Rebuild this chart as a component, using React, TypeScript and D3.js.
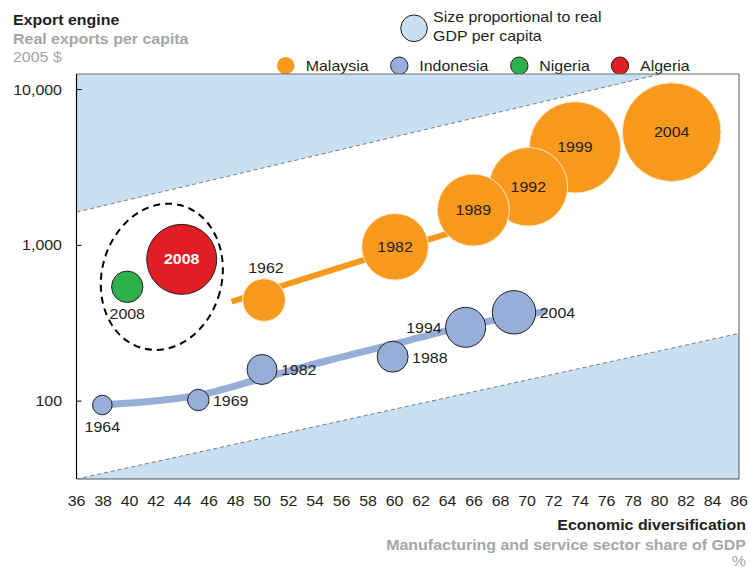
import React from 'react';
import * as d3 from 'd3';

// ---- data ----
const xTicks = [36, 38, 40, 42, 44, 46, 48, 50, 52, 54, 56, 58, 60, 62, 64, 66, 68, 70, 72, 74, 76, 78, 80, 82, 84, 86];
const yTicks = [100, 1000, 10000];

const malaysiaYears = [1962, 1982, 1989, 1992, 1999, 2004];
const malaysiaDiv = [50.15, 60.04, 65.95, 70.1, 73.62, 80.92];
const malaysiaExports = [446, 979, 1685, 2377, 4256, 5333];
const malaysiaGdp = [2180, 5320, 6220, 7410, 10020, 11670];
const malaysiaLabelPos = ['above', 'inside', 'inside', 'inside', 'inside', 'inside'];

const indonesiaYears = [1964, 1969, 1982, 1988, 1994, 2004];
const indonesiaDiv = [37.95, 45.19, 50.0, 59.86, 65.37, 69.02];
const indonesiaExports = [94.4, 101.6, 159.6, 192.8, 297.7, 371.5];
const indonesiaGdp = [460, 550, 1080, 1150, 1920, 2260];
const indonesiaLabelPos = ['below', 'right', 'right', 'right', 'left', 'right'];

const nigeriaYears = [2008];
const nigeriaDiv = [39.83];
const nigeriaExports = [542];
const nigeriaGdp = [1183];

const algeriaYears = [2008];
const algeriaDiv = [43.94];
const algeriaExports = [813];
const algeriaGdp = [5880];

const malaysiaTrendX = [47.7, 66.1];
const malaysiaTrendY = [434.5, 1355];
const indonesiaTrendX = [37.92, 42.0, 45.32, 50.0, 55.13, 61.17, 65.7, 71.5];
const indonesiaTrendY = [94.4, 100.5, 109.4, 140.0, 183.6, 246.6, 307.7, 378.4];

const upperBandX = [36, 86];
const upperBandY = [1636, 16560];
const lowerBandX = [36, 86];
const lowerBandY = [31.6, 272];

const clusterCenter = { x: 42.44, y: 628 };

const countries = ['Malaysia', 'Indonesia', 'Nigeria', 'Algeria'];

// ---- styles ----
const COLORS: Record<string, string> = {
  Malaysia: '#f7991c',
  Indonesia: '#97aed9',
  Nigeria: '#2eb04a',
  Algeria: '#e01e26',
};
const SHADE = '#c9e0f4';
const FONT = '"Liberation Sans", Arial, Helvetica, sans-serif';
const GREY = '#a6a6a6';
const TEXT = '#231f20';
const SX = 1.14;

const W = 750;
const H = 569;
const PL = 76.5, PR = 739, PT = 74, PB = 479;

type TP = {
  x: number; y: number; children: React.ReactNode; size?: number; bold?: boolean;
  fill?: string; anchor?: 'start' | 'middle' | 'end';
};
function T({ x, y, children, size = 14, bold = false, fill = TEXT, anchor = 'start' }: TP) {
  return (
    <g transform={`translate(${x},${y}) scale(${SX},1)`}>
      <text x={0} y={0} fontSize={size} fontWeight={bold ? 'bold' : 'normal'} fill={fill} textAnchor={anchor}>{children}</text>
    </g>
  );
}

export default function App() {
  const x = d3.scaleLinear().domain([36, 86]).range([PL, PR]);
  const y = d3.scaleLog().domain([Math.pow(10, 1.5), Math.pow(10, 4.1)]).range([PB, PT]);
  const r = d3.scaleSqrt().domain([0, 12000]).range([0, 50]);

  const lineGen = d3.line<[number, number]>().x(d => x(d[0])).y(d => y(d[1]));
  const curveGen = d3.line<[number, number]>().x(d => x(d[0])).y(d => y(d[1])).curve(d3.curveCatmullRom);

  const upperPts: [number, number][] = upperBandX.map((v, i) => [x(v), y(upperBandY[i])]);
  const lowerPts: [number, number][] = lowerBandX.map((v, i) => [x(v), y(lowerBandY[i])]);
  const upperPoly = `M${upperPts[0][0]},${upperPts[0][1]}L${upperPts[1][0]},${upperPts[1][1]}L${PR},${PT - 200}L${PL},${PT - 200}Z`;
  const lowerPoly = `M${lowerPts[0][0]},${lowerPts[0][1]}L${lowerPts[1][0]},${lowerPts[1][1]}L${PR},${PB + 50}L${PL},${PB + 50}Z`;
  const upperLine = lineGen(upperBandX.map((v, i) => [v, upperBandY[i]]) as [number, number][]) || '';
  const lowerLine = lineGen(lowerBandX.map((v, i) => [v, lowerBandY[i]]) as [number, number][]) || '';

  const malaysia = malaysiaYears.map((yr, i) => ({ yr, cx: x(malaysiaDiv[i]), cy: y(malaysiaExports[i]), rr: r(malaysiaGdp[i]), pos: malaysiaLabelPos[i] }));
  const indonesia = indonesiaYears.map((yr, i) => ({ yr, cx: x(indonesiaDiv[i]), cy: y(indonesiaExports[i]), rr: r(indonesiaGdp[i]), pos: indonesiaLabelPos[i] }));
  const nigeria = nigeriaYears.map((yr, i) => ({ yr, cx: x(nigeriaDiv[i]), cy: y(nigeriaExports[i]), rr: r(nigeriaGdp[i]) }));
  const algeria = algeriaYears.map((yr, i) => ({ yr, cx: x(algeriaDiv[i]), cy: y(algeriaExports[i]), rr: r(algeriaGdp[i]) }));

  const labelProps = (d: { cx: number; cy: number; rr: number; pos: string }) => {
    switch (d.pos) {
      case 'above': return { x: d.cx + 2, y: d.cy - d.rr - 6, anchor: 'middle' as const };
      case 'below': return { x: d.cx, y: d.cy + d.rr + 17, anchor: 'middle' as const };
      case 'right': return { x: d.cx + d.rr + 4, y: d.cy + 6, anchor: 'start' as const };
      case 'left': return { x: d.cx - d.rr - 4, y: d.cy + 6, anchor: 'end' as const };
      default: return { x: d.cx, y: d.cy + 5, anchor: 'middle' as const };
    }
  };

  const legendX = [285.7, 399.3, 519.3, 620];

  return (
    <svg width={W} height={H} style={{ position: 'absolute', left: 0, top: 0, fontFamily: FONT }}>
      <defs>
        <clipPath id="plotClip">
          <rect x={PL} y={PT} width={PR - PL} height={PB - PT} />
        </clipPath>
      </defs>

      {/* titles */}
      <T x={13} y={25} bold>Export engine</T>
      <T x={13} y={44} bold fill={GREY}>Real exports per capita</T>
      <T x={13} y={62} fill={GREY}>2005 $</T>

      {/* size legend */}
      <circle cx={414} cy={28.3} r={13.3} fill={SHADE} stroke="#231f20" strokeWidth={1} />
      <T x={433} y={22}>Size proportional to real</T>
      <T x={433} y={41}>GDP per capita</T>

      {/* color legend */}
      {countries.map((c, i) => (
        <g key={c}>
          <circle cx={legendX[i]} cy={65.7} r={8.7} fill={COLORS[c]} stroke={c === 'Malaysia' ? 'none' : '#231f20'} strokeWidth={1} />
          <T x={legendX[i] + 20} y={71.3}>{c}</T>
        </g>
      ))}

      {/* shaded bands */}
      <g clipPath="url(#plotClip)">
        <path d={upperPoly} fill={SHADE} />
        <path d={lowerPoly} fill={SHADE} />
        <path d={upperLine} fill="none" stroke="#7a7a7a" strokeWidth={1} strokeDasharray="4,3" />
        <path d={lowerLine} fill="none" stroke="#7a7a7a" strokeWidth={1} strokeDasharray="4,3" />
      </g>

      {/* frame */}
      <line x1={PL} y1={PT} x2={PR} y2={PT} stroke="#6d6d6d" strokeWidth={1} />
      <line x1={PR} y1={PT} x2={PR} y2={PB} stroke="#555" strokeWidth={1} />
      <line x1={PL} y1={PB} x2={PR} y2={PB} stroke="#555" strokeWidth={1} />
      <line x1={PL} y1={PT} x2={PL} y2={PB} stroke="#000" strokeWidth={1.2} />

      {/* y axis */}
      {yTicks.map(t => (
        <g key={t}>
          <line x1={PL} x2={PL + 5} y1={y(t)} y2={y(t)} stroke="#000" strokeWidth={1} />
          <T x={62} y={y(t) + 5} anchor="end">{d3.format(',')(t)}</T>
        </g>
      ))}

      {/* x axis labels */}
      {xTicks.map(t => (
        <T key={t} x={x(t)} y={506} anchor="middle">{t}</T>
      ))}

      <T x={746} y={530} bold anchor="end">Economic diversification</T>
      <T x={746} y={550} bold fill={GREY} anchor="end">Manufacturing and service sector share of GDP</T>
      <T x={746} y={566} fill={GREY} anchor="end">%</T>

      {/* trend lines */}
      <path d={lineGen(malaysiaTrendX.map((v, i) => [v, malaysiaTrendY[i]]) as [number, number][]) || ''} fill="none" stroke={COLORS.Malaysia} strokeWidth={6} />
      <path d={curveGen(indonesiaTrendX.map((v, i) => [v, indonesiaTrendY[i]]) as [number, number][]) || ''} fill="none" stroke={COLORS.Indonesia} strokeWidth={7} />

      {/* Indonesia bubbles */}
      {indonesia.map(d => (
        <circle key={'i' + d.yr} cx={d.cx} cy={d.cy} r={d.rr} fill={COLORS.Indonesia} stroke="#231f20" strokeWidth={1} />
      ))}
      {indonesia.map(d => {
        const l = labelProps(d);
        return <T key={'il' + d.yr} x={l.x} y={l.y} anchor={l.anchor}>{d.yr}</T>;
      })}

      {/* Malaysia bubbles (later years drawn first) */}
      {[...malaysia].reverse().map(d => (
        <circle key={'m' + d.yr} cx={d.cx} cy={d.cy} r={d.rr} fill={COLORS.Malaysia} stroke="#fde6c8" strokeWidth={1} />
      ))}
      {malaysia.map(d => {
        const l = labelProps(d);
        return <T key={'ml' + d.yr} x={l.x} y={l.y} anchor={l.anchor}>{d.yr}</T>;
      })}

      {/* Nigeria & Algeria */}
      {nigeria.map(d => (
        <g key={'n' + d.yr}>
          <circle cx={d.cx} cy={d.cy} r={d.rr} fill={COLORS.Nigeria} stroke="#231f20" strokeWidth={1} />
          <T x={d.cx} y={d.cy + d.rr + 17} anchor="middle">{d.yr}</T>
        </g>
      ))}
      {algeria.map(d => (
        <g key={'a' + d.yr}>
          <circle cx={d.cx} cy={d.cy} r={d.rr} fill={COLORS.Algeria} stroke="#231f20" strokeWidth={1} />
          <T x={d.cx} y={d.cy + 5} bold fill="#fff" anchor="middle">{d.yr}</T>
        </g>
      ))}

      {/* dashed cluster ellipse */}
      <ellipse
        cx={0} cy={0} rx={60} ry={74}
        transform={`translate(${x(clusterCenter.x)},${y(clusterCenter.y)}) rotate(15)`}
        fill="none" stroke="#000" strokeWidth={2} strokeDasharray="7,5"
      />
    </svg>
  );
}
